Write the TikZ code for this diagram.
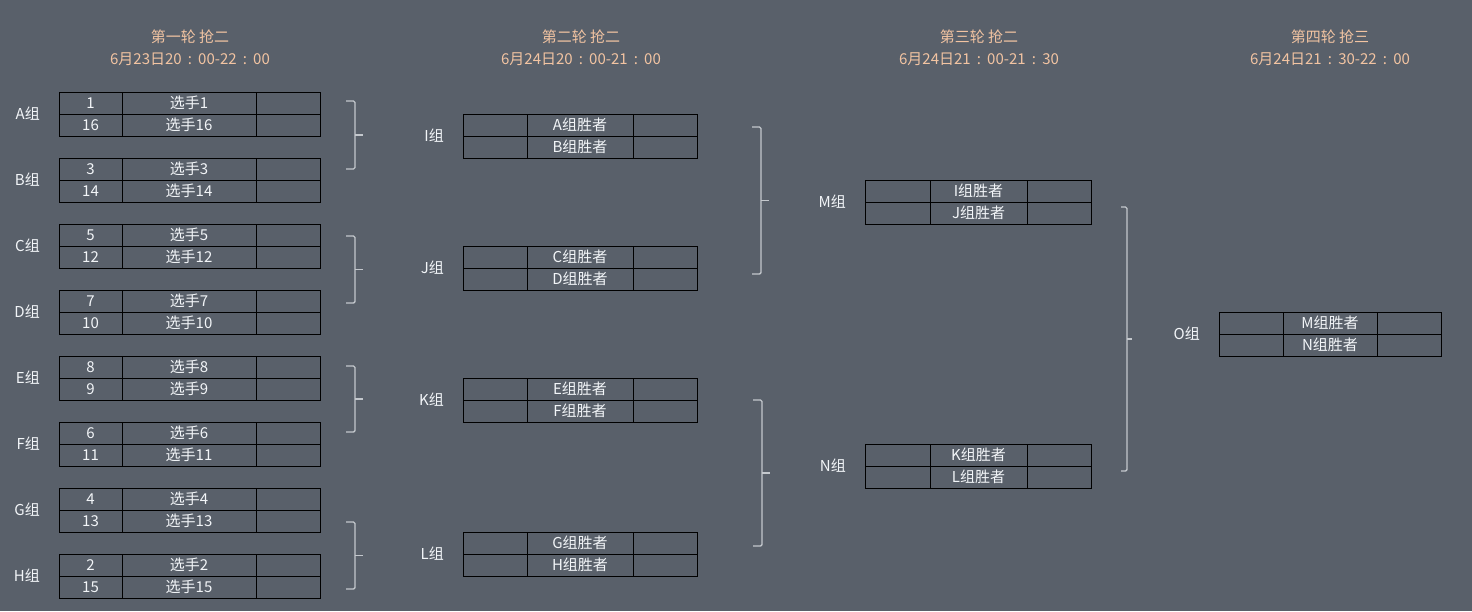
\documentclass[tikz,border=0pt]{standalone}
\usepackage{fontspec}
\setmainfont{Noto Sans CJK SC}
\usepackage{tikz}
\usetikzlibrary{positioning}
\definecolor{bgcolor}{RGB}{89,96,106}
\definecolor{headcolor}{RGB}{242,196,162}
\definecolor{textcolor}{RGB}{242,245,248}
\definecolor{bracecolor}{RGB}{196,200,205}
\newcommand{\colonmark}{\makebox[1.1em]{:}}

\begin{document}
\begin{tikzpicture}[x=1pt, y=-1pt]
\tikzstyle{cell}=[draw=black, line width=0.9pt, shape=rectangle, minimum height=22pt, inner sep=0pt, outer sep=0pt, text=textcolor, font=\fontsize{15}{16}\selectfont]
\tikzstyle{grouplabel}=[inner sep=0pt, text=textcolor, font=\fontsize{15}{16}\selectfont]
\tikzstyle{header}=[align=center, text=headcolor, font=\fontsize{15}{22}\selectfont]
\tikzstyle{bracket}=[draw=bracecolor, line width=1.4pt, rounded corners=1.5pt]
\fill[bgcolor] (0,0) rectangle (1472,611);
\useasboundingbox (0,0) rectangle (1472,611);

% headers
\node[header] (r1) at (190,48) {第一轮 抢二\\6月23日20\colonmark 00-22\colonmark 00};
\node[header] (r2) at (581,48) {第二轮 抢二\\6月24日20\colonmark 00-21\colonmark 00};
\node[header] (r3) at (979,48) {第三轮 抢二\\6月24日21\colonmark 00-21\colonmark 30};
\node[header] (r4) at (1330,48) {第四轮 抢三\\6月24日21\colonmark 30-22\colonmark 00};

% round one
\foreach \g/\y/\sa/\sb in {A/92/1/16, B/158/3/14, C/224/5/12, D/290/7/10, E/356/8/9, F/422/6/11, G/488/4/13, H/554/2/15}{
  \node[cell, minimum width=63pt, anchor=north west] (\g-1) at (59,\y) {\sa};
  \node[cell, minimum width=134pt] (\g-2) [right=0pt of \g-1] {选手\sa};
  \node[cell, minimum width=64pt] (\g-3) [right=0pt of \g-2] {};
  \node[cell, minimum width=63pt] (\g-4) [below=0pt of \g-1] {\sb};
  \node[cell, minimum width=134pt] (\g-5) [right=0pt of \g-4] {选手\sb};
  \node[cell, minimum width=64pt] (\g-6) [right=0pt of \g-5] {};
  \node[grouplabel] (\g) [left=19pt of \g-1.south west] {\g{}组};
}

% later rounds
\foreach \g/\x/\y/\wa/\wb/\wc/\p/\q in {I/463/114/64/106/64/A/B, J/463/246/64/106/64/C/D, K/463/378/64/106/64/E/F, L/463/532/64/106/64/G/H, M/865/180/65/97/64/I/J, N/865/444/65/97/64/K/L, O/1219/312/64/94/64/M/N}{
  \node[cell, minimum width=\wa pt, anchor=north west] (\g-1) at (\x,\y) {};
  \node[cell, minimum width=\wb pt] (\g-2) [right=0pt of \g-1] {\p{}组胜者};
  \node[cell, minimum width=\wc pt] (\g-3) [right=0pt of \g-2] {};
  \node[cell, minimum width=\wa pt] (\g-4) [below=0pt of \g-1] {};
  \node[cell, minimum width=\wb pt] (\g-5) [right=0pt of \g-4] {\q{}组胜者};
  \node[cell, minimum width=\wc pt] (\g-6) [right=0pt of \g-5] {};
  \node[grouplabel] (\g) [left=19pt of \g-1.south west] {\g{}组};
}

% brackets
\foreach \x/\t/\b/\w in {346/101/169/9, 346/236/303/9, 346/366/432/9, 346/522/589/9, 752/127/274/9, 753/400/546/9, 1121/207/471/6}{
  \draw[bracket] (\x,\t) -- ++(\w,0) |- (\x,\b);
  \draw[bracket] ({\x+\w},{(\t+\b)/2}) -- ++({\w-1},0);
}
\end{tikzpicture}
\end{document}
